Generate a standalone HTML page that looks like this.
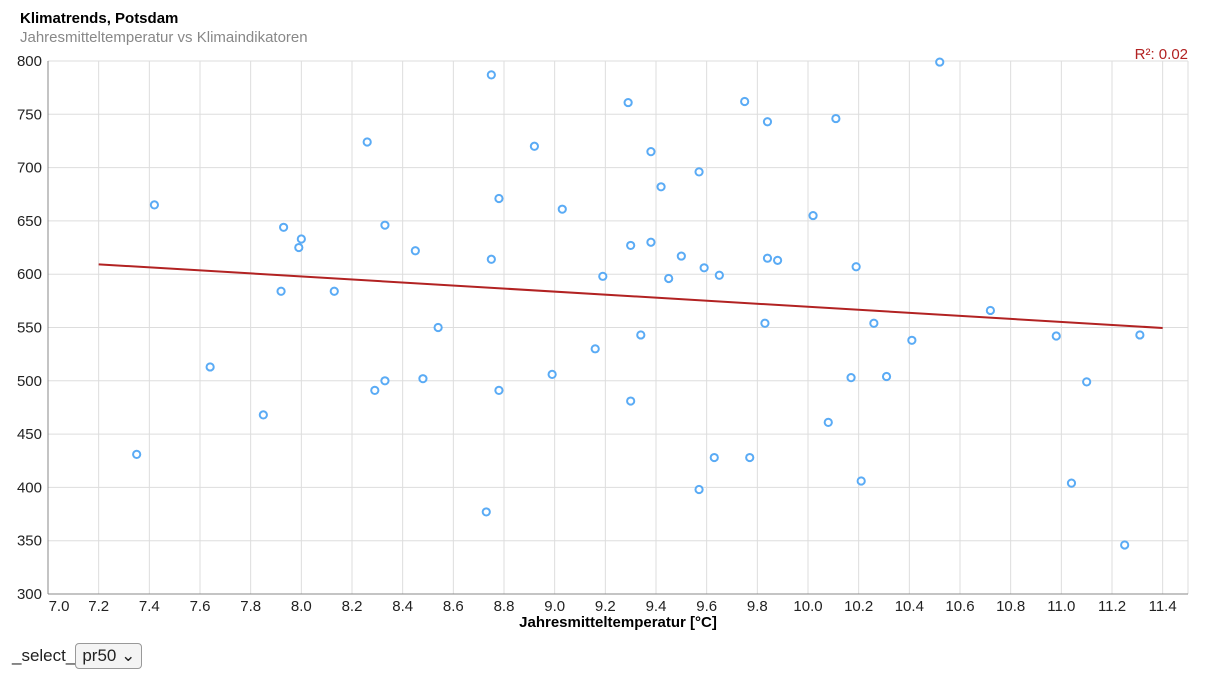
<!DOCTYPE html>
<html><head><meta charset="utf-8">
<style>
body{margin:0;width:1206px;height:680px;background:#fff;font-family:"Liberation Sans",sans-serif;overflow:hidden;position:relative}
.t{position:absolute;left:20px;top:10px;font-size:15px;font-weight:bold;color:#000}
.s{position:absolute;left:20px;top:29px;font-size:15px;color:#888}
.sel{position:absolute;left:12px;top:643px;font-size:17px;color:#222}
.sel span.box{display:inline-block;border:1px solid #999;border-radius:4px;padding:2px 6px;margin-left:0;background:#f4f4f4}
svg{position:absolute;left:0;top:0}
</style></head><body>
<div class="t">Klimatrends, Potsdam</div>
<div class="s">Jahresmitteltemperatur vs Klimaindikatoren</div>
<svg id="c" width="1206" height="680"></svg>
<div class="sel">_select_<span class="box">pr50 &#8964;</span></div>
<script>
const xVals=[7.35,7.42,7.64,7.85,7.92,7.93,7.99,8.00,8.13,8.26,8.29,8.33,8.33,8.45,8.48,8.54,8.73,8.75,8.75,8.78,8.78,8.92,8.99,9.03,9.16,9.19,9.29,9.30,9.30,9.34,9.38,9.38,9.42,9.45,9.50,9.57,9.57,9.59,9.63,9.65,9.75,9.77,9.83,9.84,9.84,9.88,10.02,10.08,10.11,10.17,10.19,10.21,10.26,10.31,10.41,10.52,10.72,10.98,11.04,11.10,11.25,11.31];
const yVals=[431,665,513,468,584,644,625,633,584,724,491,646,500,622,502,550,377,787,614,671,491,720,506,661,530,598,761,627,481,543,715,630,682,596,617,696,398,606,428,599,762,428,554,743,615,613,655,461,746,503,607,406,554,504,538,799,566,542,404,499,346,543];
const xTicks=[7.0,7.2,7.4,7.6,7.8,8.0,8.2,8.4,8.6,8.8,9.0,9.2,9.4,9.6,9.8,10.0,10.2,10.4,10.6,10.8,11.0,11.2,11.4];
const yTicks=[300,350,400,450,500,550,600,650,700,750,800];
const X0=48,X1=1188,Y0=594,Y1=61;
const sx=v=>X0+(v-7)/(11.5-7)*(X1-X0);
const sy=v=>Y0-(v-300)/(500)*(Y0-Y1);
const svg=document.getElementById('c');const NS='http://www.w3.org/2000/svg';
function mk(t,a,txt){const e=document.createElementNS(NS,t);for(const k in a)e.setAttribute(k,a[k]);if(txt!==undefined)e.textContent=txt;svg.appendChild(e);return e;}
xTicks.forEach(v=>{const x=sx(v);
const g=mk('line',{x1:x,x2:x,y1:Y1,y2:Y0,stroke:'#ddd'});


const tx=mk('text',{x:v===7?59:x,y:611,'font-size':15,'text-anchor':'middle',fill:'#222'},v.toFixed(1));

});
mk('line',{x1:X1,x2:X1,y1:Y1,y2:Y0,stroke:'#ddd'});
yTicks.forEach(v=>{const y=sy(v);
const g=mk('line',{x1:X0,x2:X1,y1:y,y2:y,stroke:'#ddd'});


const tx=mk('text',{x:42,y:y+5,'font-size':15,'text-anchor':'end',fill:'#222'},v);

});
const ax=mk('line',{x1:X0,x2:X0,y1:Y1,y2:Y0,stroke:'#888'});


const bx=mk('line',{x1:X0,x2:X1,y1:Y0,y2:Y0,stroke:'#888'});


const xt=mk('text',{x:618,y:627,'font-size':15,'font-weight':'bold','text-anchor':'middle',fill:'#000'},'Jahresmitteltemperatur [°C]');


const n=xVals.length;let mx=0,my=0;for(let i=0;i<n;i++){mx+=xVals[i];my+=yVals[i];}mx/=n;my/=n;
let sxy=0,sxx=0,syy=0;for(let i=0;i<n;i++){sxy+=(xVals[i]-mx)*(yVals[i]-my);sxx+=(xVals[i]-mx)**2;syy+=(yVals[i]-my)**2;}
const b=sxy/sxx,a=my-b*mx,r2=sxy*sxy/(sxx*syy);
const tl=mk('line',{x1:sx(7.2),y1:sy(a+b*7.2),x2:sx(11.4),y2:sy(a+b*11.4),stroke:'#b22222','stroke-width':2});


const rl=mk('text',{x:1188,y:59,'font-size':15,'text-anchor':'end',fill:'#b22222'},'R²: '+r2.toFixed(2));


for(let i=0;i<n;i++){const p=mk('circle',{cx:sx(xVals[i]),cy:sy(yVals[i]),r:3.6,fill:'#fff',stroke:'#5aabf5','stroke-width':2});

}
</script>
</body></html>
